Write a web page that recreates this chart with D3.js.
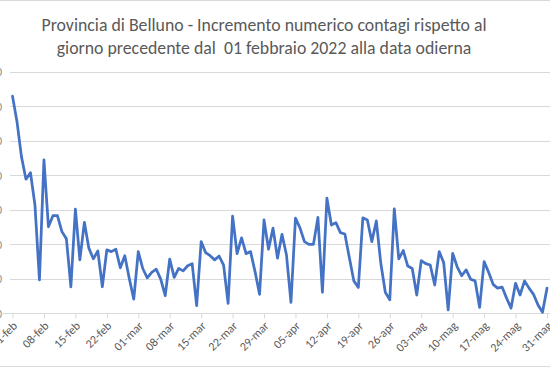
<!DOCTYPE html>
<html>
<head>
<meta charset="utf-8">
<script src="https://cdn.jsdelivr.net/npm/d3@7"></script>
<style>
  html, body { margin: 0; padding: 0; background: #fff; }
  svg { display: block; }
</style>
</head>
<body>
<svg id="chart" width="550" height="367"></svg>
<script>
const titleLines = [
  "Provincia di Belluno - Incremento numerico contagi rispetto al",
  "giorno precedente dal  01 febbraio 2022 alla data odierna"
];
const startDate = "2022-02-01";
const values = [
  630, 556, 454, 389, 408, 314, 97, 445, 251, 283,
  283, 237, 216, 77, 302, 155, 264, 189, 158, 181,
  77, 184, 179, 186, 132, 167, 101, 41, 179, 130,
  103, 119, 128, 99, 51, 157, 104, 130, 123, 138,
  144, 22, 208, 176, 167, 155, 166, 140, 29, 282,
  173, 219, 173, 179, 121, 55, 271, 186, 247, 160,
  229, 169, 32, 276, 248, 208, 200, 200, 278, 61,
  334, 256, 263, 234, 230, 161, 94, 75, 277, 271,
  208, 268, 145, 61, 39, 303, 158, 182, 137, 130,
  53, 153, 144, 140, 82, 179, 147, 10, 174, 135,
  109, 126, 99, 94, 17, 150, 119, 84, 73, 76,
  44, 15, 87, 53, 94, 73, 55, 24, 3, 73
];
const yTicks = [0, 100, 200, 300, 400, 500, 600, 700];
const monthNames = ["gen","feb","mar","apr","mag","giu","lug","ago","set","ott","nov","dic"];

const parse = d3.utcParse("%Y-%m-%d");
const t0 = parse(startDate);
const data = values.map((v, i) => ({ date: d3.utcDay.offset(t0, i), value: v }));

const svg = d3.select("#chart");
const W = 550, H = 367;
const font = "Calibri, Carlito, Lato, 'Open Sans', sans-serif";

// border
svg.append("rect").attr("x", -5).attr("y", 0.5).attr("width", W + 10).attr("height", H - 1)
  .attr("fill", "#fff").attr("stroke", "#d9d9d9").attr("stroke-width", 1);

const x = d3.scaleUtc()
  .domain([data[0].date, data[data.length - 1].date])
  .range([12.5, 547]);
const y = d3.scaleLinear().domain([0, 700]).range([313.3, 72]);

// gridlines
svg.append("g")
  .selectAll("line").data(yTicks.slice(1)).join("line")
  .attr("x1", 10).attr("x2", W)
  .attr("y1", d => Math.round(y(d)) + 0.5).attr("y2", d => Math.round(y(d)) + 0.5)
  .attr("stroke", "#d9d9d9").attr("stroke-width", 1);

// y labels (cut off at the left edge, as in the cropped reference)
svg.append("g")
  .selectAll("text").data(yTicks).join("text")
  .attr("x", 2).attr("y", d => y(d)).attr("dy", "0.35em")
  .attr("text-anchor", "end")
  .attr("font-family", font).attr("font-size", 12).attr("fill", "#8c8c8c")
  .text(d => d);

// x axis
const tickDates = d3.utcDay.range(data[0].date, d3.utcDay.offset(data[data.length - 1].date, 1), 7);
const fmt = d => d3.utcFormat("%d")(d) + "-" + monthNames[d.getUTCMonth()];
const xAxis = d3.axisBottom(x).tickValues(tickDates).tickSize(5).tickSizeOuter(0).tickFormat(fmt);
const gx = svg.append("g").attr("transform", `translate(0,${Math.round(y(0)) + 0.5})`).call(xAxis);
gx.select(".domain").attr("stroke", "#d9d9d9").attr("d", `M0,0H${W}`);
gx.selectAll(".tick line").attr("stroke", "#d9d9d9");
gx.selectAll(".tick text")
  .attr("font-family", font).attr("font-size", 12).attr("fill", "#595959")
  .attr("text-anchor", "end")
  .attr("x", 0).attr("y", 0).attr("dy", 0)
  .attr("transform", "translate(5,13) rotate(-45)");

// line
const line = d3.line().x(d => x(d.date)).y(d => y(d.value));
svg.append("path").datum(data)
  .attr("d", line)
  .attr("fill", "none")
  .attr("stroke", "#4472C4")
  .attr("stroke-width", 2.75)
  .attr("stroke-linejoin", "round")
  .attr("stroke-linecap", "round");

// title
svg.append("text")
  .attr("x", 264).attr("y", 31)
  .attr("text-anchor", "middle")
  .attr("font-family", font).attr("font-size", 17.8).attr("fill", "#595959")
  .style("white-space", "pre")
  .selectAll("tspan").data(titleLines).join("tspan")
  .attr("x", 264).attr("dy", (d, i) => i === 0 ? 0 : 23)
  .text(d => d);
</script>
</body>
</html>
